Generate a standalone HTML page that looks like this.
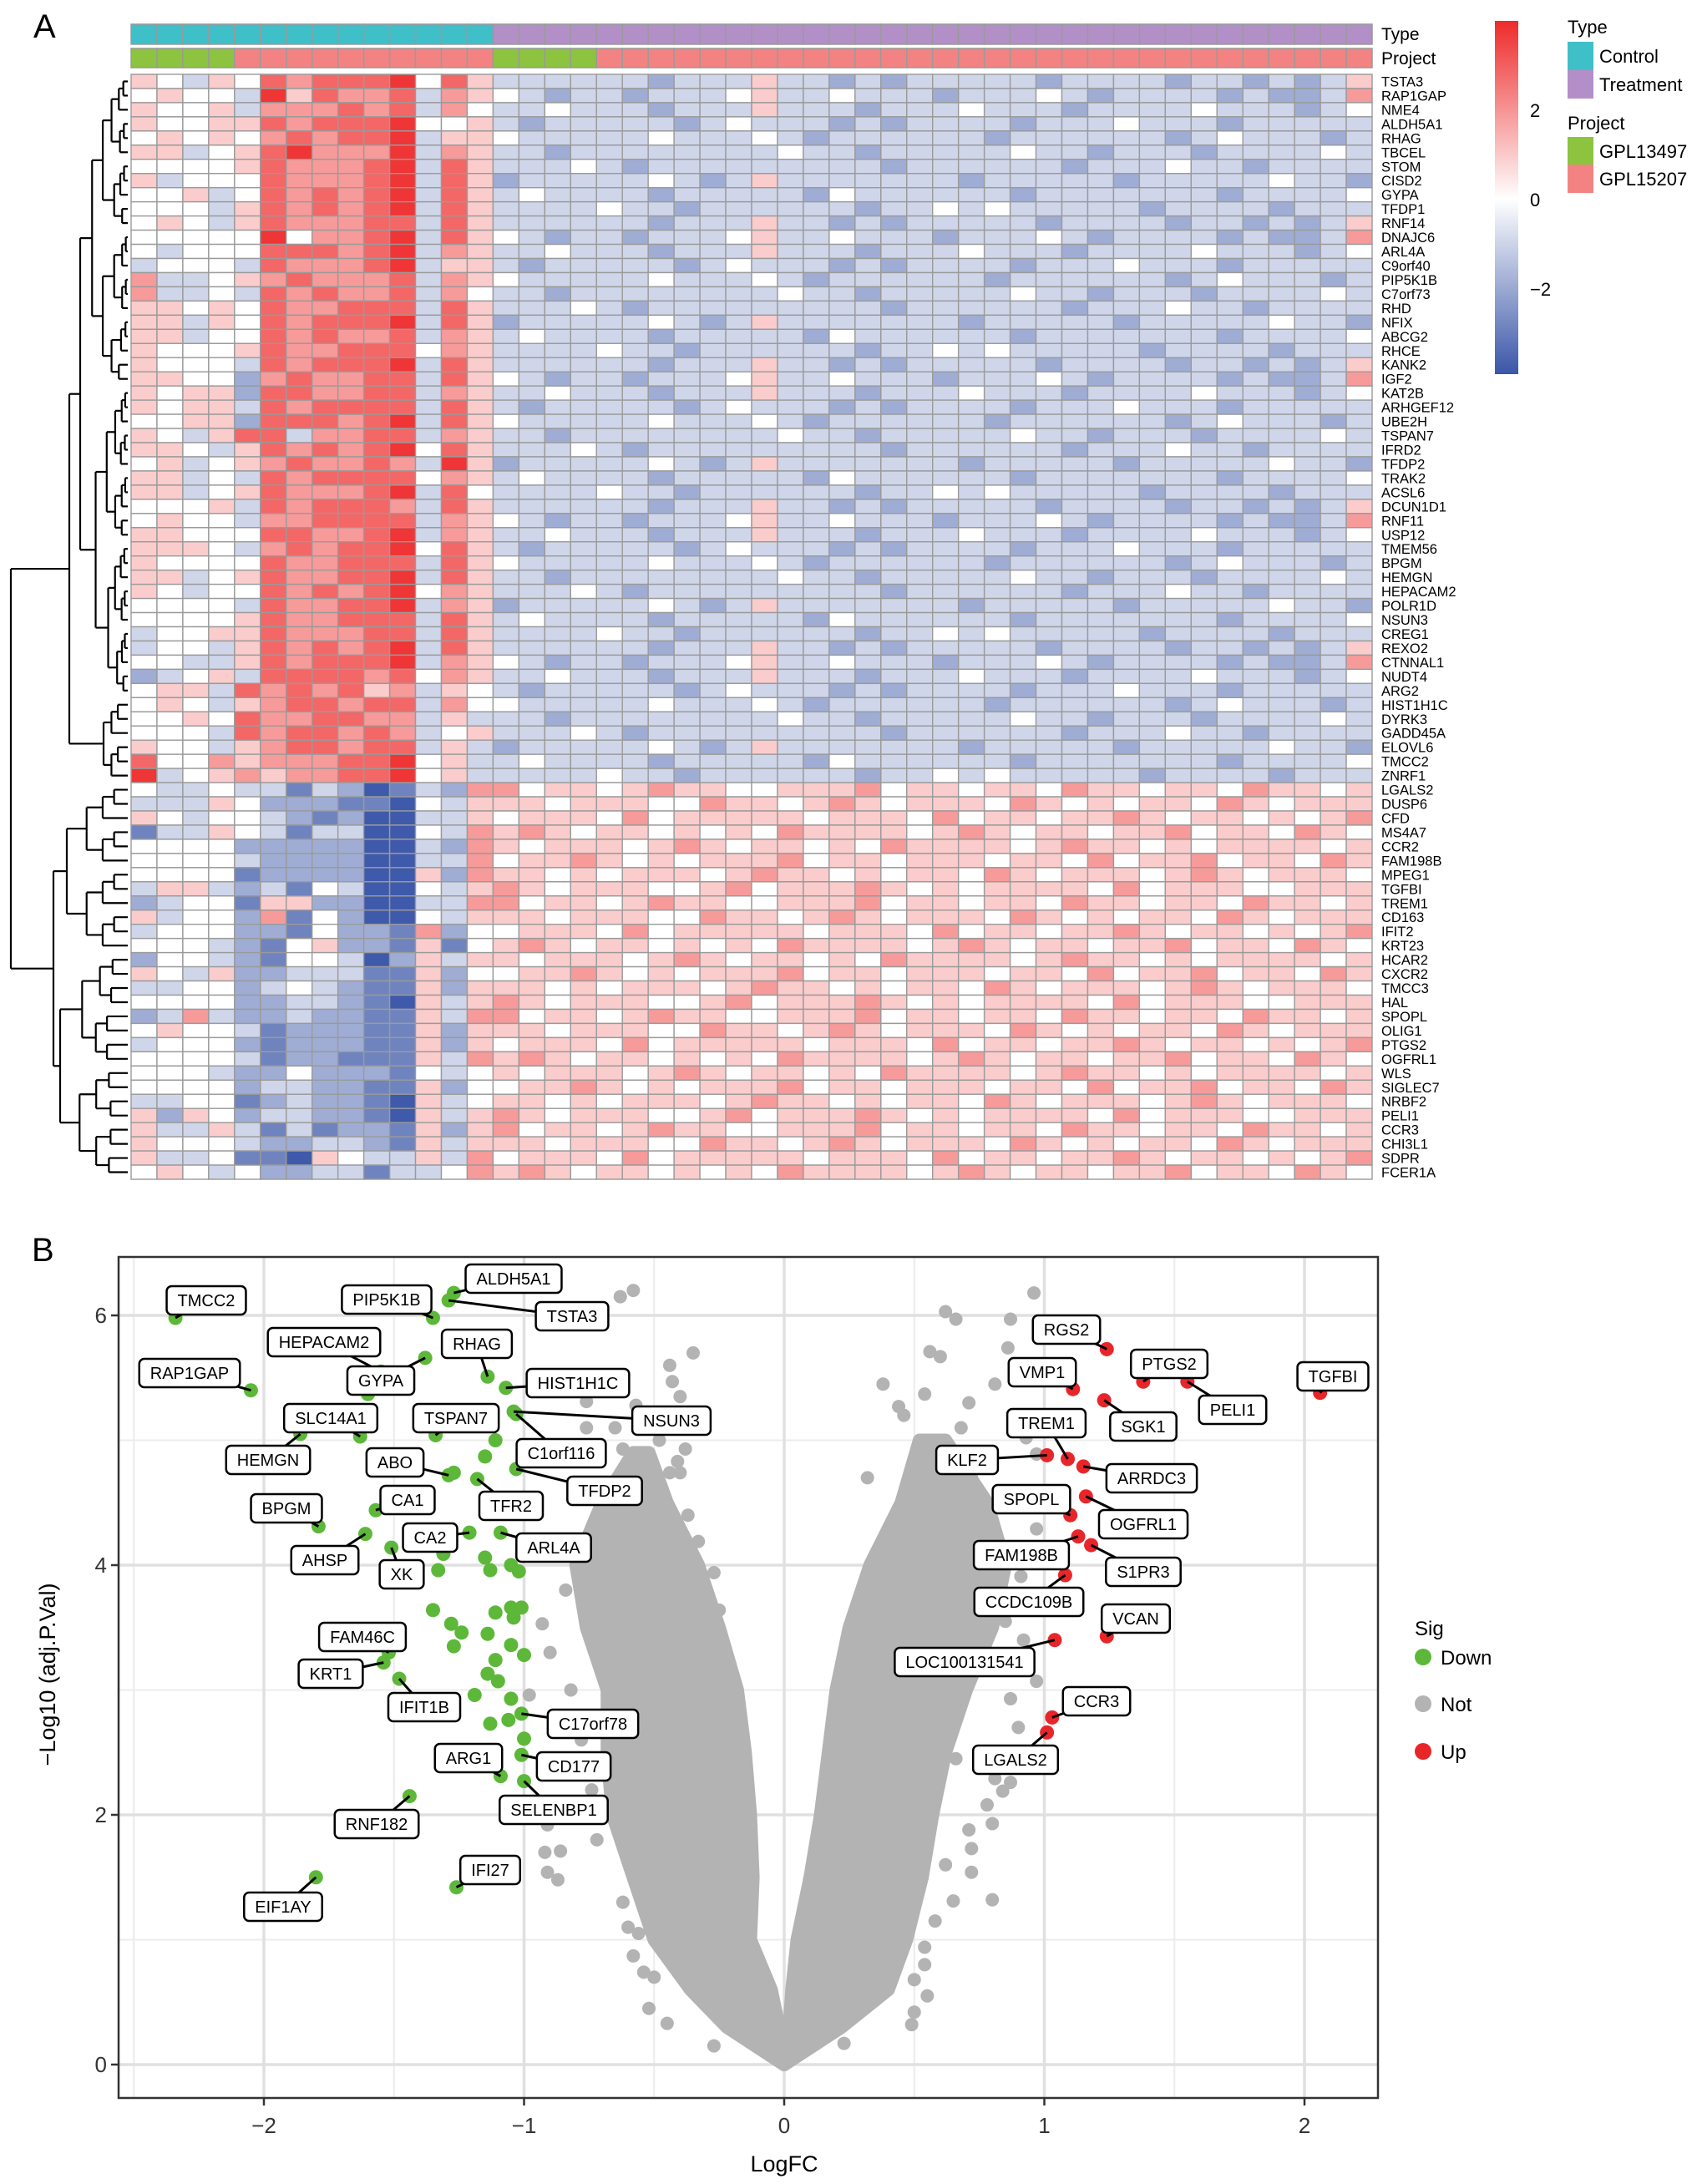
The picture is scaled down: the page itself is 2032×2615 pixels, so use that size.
<!DOCTYPE html>
<html><head><meta charset="utf-8">
<style>
html,body{margin:0;padding:0;background:#fff;}
svg{display:block;font-family:"Liberation Sans",Arial,sans-serif;}
</style></head>
<body>
<svg id="fig" xmlns="http://www.w3.org/2000/svg" width="2032" height="2615" viewBox="0 0 2032 2615">
<rect x="0" y="0" width="2032" height="2615" fill="#fff"/>
<text x="40" y="45" font-size="40">A</text>
<text x="38" y="1510" font-size="40">B</text>
<g id="heat"></g>
<g id="dendro"></g>
<g id="hlegend"></g>
<g id="volc"></g>
</svg>
<script>
// ---------------- Heatmap data ----------------
const rowNames = ["TSTA3","RAP1GAP","NME4","ALDH5A1","RHAG","TBCEL","STOM","CISD2","GYPA","TFDP1","RNF14","DNAJC6","ARL4A","C9orf40","PIP5K1B","C7orf73","RHD","NFIX","ABCG2","RHCE","KANK2","IGF2","KAT2B","ARHGEF12","UBE2H","TSPAN7","IFRD2","TFDP2","TRAK2","ACSL6","DCUN1D1","RNF11","USP12","TMEM56","BPGM","HEMGN","HEPACAM2","POLR1D","NSUN3","CREG1","REXO2","CTNNAL1","NUDT4","ARG2","HIST1H1C","DYRK3","GADD45A","ELOVL6","TMCC2","ZNRF1","LGALS2","DUSP6","CFD","MS4A7","CCR2","FAM198B","MPEG1","TGFBI","TREM1","CD163","IFIT2","KRT23","HCAR2","CXCR2","TMCC3","HAL","SPOPL","OLIG1","PTGS2","OGFRL1","WLS","SIGLEC7","NRBF2","PELI1","CCR3","CHI3L1","SDPR","FCER1A"];
const typeAnno = ["C","C","C","C","C","C","C","C","C","C","C","C","C","C","T","T","T","T","T","T","T","T","T","T","T","T","T","T","T","T","T","T","T","T","T","T","T","T","T","T","T","T","T","T","T","T","T","T"];
const projAnno = ["A","A","A","A","B","B","B","B","B","B","B","B","B","B","A","A","A","A","B","B","B","B","B","B","B","B","B","B","B","B","B","B","B","B","B","B","B","B","B","B","B","B","B","B","B","B","B","B"];
// each char = expression level code (5 = 0)
const heatRows = [
"65465878889586"+"4444443444644343444443444434434346",
"56554968778476"+"5434434445644544434445434444343347",
"65564777878475"+"4454443444644434445444344445444345",
"65566878889556"+"4344444345444343444434445444344444",
"56565787889466"+"5444445444543444444344444434544434",
"66456897779476"+"4434444444454434444454434443444454",
"55556877789486"+"4445434444444443444444344454434444",
"64555877789486"+"3444445434644444443444443444445443",
"55645878789486"+"4544443444443544444434444444344445",
"55546878789486"+"4444544344444434454544444344443444",
"56546877788486"+"4444443444644343444443444434434346",
"55555957789486"+"5434434445644544434445434444343347",
"54555888789476"+"4454443444644434445444344445444345",
"45554877789466"+"4344444345444343444434445444344444",
"74456787778476"+"5444445444543444444344444434544434",
"74454878778475"+"4434444444454434444454434443444454",
"66565877888486"+"4445434444444443444444344454434444",
"66465878889486"+"3444445434644444443444443444445443",
"66455878778476"+"4544443444443544444434444444344445",
"65556877888576"+"4444544344444434454544444344443444",
"65554878889486"+"4444443444644343444443444434434346",
"66553787788486"+"5434434445644544434445434444343347",
"65663887788476"+"4454443444644434445444344445444345",
"65664878888486"+"4344444345444343444434445444344444",
"55663888789486"+"5444445444543444444344444434544434",
"65468847788476"+"4434444444454434444454434443444454",
"66546878789586"+"4445434444444443444444344454434444",
"56456787787496"+"3444445434644444443444443444445443",
"66454878888576"+"4544443444443544444434444444344445",
"66456877789485"+"4444544344444434454544444344443444",
"55564878887486"+"4444443444644343444443444434434346",
"56554778888476"+"5434434445644544434445434444343347",
"66555887789476"+"4454443444644434445444344445444345",
"66654787889586"+"4344444345444343444434445444344444",
"65555877888486"+"5444445444543444444344444434544434",
"66456877889486"+"4434444444454434444454434443444454",
"65455878789576"+"4445434444444443444444344454434444",
"55554877889476"+"3444445434644444443444443444445443",
"55556877888486"+"4544443444443544444434444444344445",
"45566877788486"+"4444544344444434454544444344443444",
"45546878789486"+"4444443444644343444443444434434346",
"55446878889476"+"5434434445644544434445434444343347",
"34564888878576"+"4454443444644434445444344445444345",
"56648787867465"+"4344444345444343444434445444344444",
"56546788788475"+"5444445444543444444344444434544434",
"55658778877464"+"4434444444454434444454434443444454",
"55548788787456"+"4445434444444443444444344454434444",
"65546788788464"+"3444445434644444443444443444445443",
"85576777889564"+"4544443444443544444434444444344445",
"94567677889564"+"4444544344444434454544444344443444",
"54454424312437"+"7566567665566675665665766566576656",
"44465333221546"+"6656665576656765666576565665765666",
"65455432311446"+"5666575666665666575665667656656567",
"24465424411547"+"6765665656576666567656656675665765",
"55553333311437"+"6566656765665657666656766565666656",
"55554333311447"+"5667656566675665666566575667566576",
"55552333311637"+"6656566656766565665765666567656665",
"46643425411546"+"7656665567566676565666657566655666",
"34552663311447"+"7566567665566675665665766566576656",
"64553725311546"+"6656665576656765666576565665765666",
"45553325332735"+"5666575666665666575665667656656567",
"55543256332625"+"6765665656576666567656656675665765",
"35543255413646"+"6566656765665657666656766565666656",
"65463344422635"+"5667656566675665666566575667566576",
"44553454322636"+"6656566656766565665765666567656665",
"55553344321646"+"7656665567566676565666657566655666",
"34743343322647"+"7566567665566675665665766566576656",
"56554233322636"+"6656665576656765666576565665765666",
"45553233322636"+"5666575666665666575665667656656567",
"55554233222647"+"6765665656576666567656656675665765",
"55543353332545"+"6566656765665657666656766565666656",
"55553443322635"+"5667656566675665666566575667566576",
"44552343321645"+"6656566656766565665765666567656665",
"63653443321646"+"7656665567566676565666657566655666",
"64464242332636"+"7566567665566675665665766566576656",
"65554334432646"+"6656665576656765666576565665765666",
"64452216544647"+"5666575666665666575665667656656567",
"56545334424457"+"6765665656576666567656656675665765"
];
const colorTicks = [2, 0, -2];

// ---------------- Volcano data ----------------
const downX = [-2.34,-2.05,-1.27,-1.29,-1.35,-1.38,-1.55,-1.60,-1.14,-1.07,-1.86,-1.63,-1.34,-1.04,-1.03,-1.11,-1.15,-1.29,-1.27,-1.03,-1.18,-1.57,-1.79,-1.61,-1.51,-1.21,-1.09,-1.31,-1.33,-1.15,-1.13,-1.05,-1.02,-1.35,-1.11,-1.05,-1.01,-1.04,-1.28,-1.24,-1.27,-1.14,-1.05,-1.00,-1.11,-1.14,-1.10,-1.19,-1.05,-1.13,-1.06,-1.00,-1.52,-1.54,-1.48,-1.01,-1.09,-1.01,-1.00,-1.44,-1.26,-1.80];
const downY = [5.98,5.40,6.18,6.12,5.98,5.66,5.55,5.37,5.51,5.42,5.05,5.03,5.04,5.23,5.21,5.00,4.87,4.72,4.74,4.77,4.69,4.44,4.31,4.25,4.14,4.26,4.26,4.09,3.96,4.06,3.96,4.00,3.95,3.64,3.62,3.66,3.66,3.58,3.53,3.46,3.35,3.45,3.36,3.28,3.24,3.13,3.07,2.96,2.93,2.73,2.76,2.61,3.30,3.22,3.09,2.81,2.31,2.48,2.27,2.15,1.42,1.50];
const downLabel = ["TMCC2","RAP1GAP","ALDH5A1","TSTA3","PIP5K1B","GYPA","HEPACAM2","","RHAG","HIST1H1C","HEMGN","SLC14A1","TSPAN7","NSUN3","C1orf116","","","ABO","","TFDP2","TFR2","CA1","BPGM","AHSP","XK","CA2","ARL4A","","","","","","","","","","","","","","","","","","","","","","","","","","FAM46C","KRT1","IFIT1B","C17orf78","ARG1","CD177","SELENBP1","RNF182","IFI27","EIF1AY"];
const upX = [1.24,1.11,1.38,1.55,2.06,1.23,1.01,1.09,1.15,1.10,1.16,1.13,1.18,1.08,1.24,1.04,1.03,1.01];
const upY = [5.73,5.41,5.47,5.47,5.38,5.32,4.88,4.85,4.79,4.40,4.55,4.23,4.16,3.92,3.43,3.40,2.78,2.66];
const upLabel = ["RGS2","VMP1","PTGS2","PELI1","TGFBI","SGK1","KLF2","TREM1","ARRDC3","SPOPL","OGFRL1","FAM198B","S1PR3","CCDC109B","VCAN","LOC100131541","CCR3","LGALS2"];
// dense non-significant cloud envelope (two arms of the V)
const leftArmY = [0,0.3,0.6,1,1.5,2,2.5,3,3.5,4,4.5,4.9];
const leftArmOuter = [0,-0.22,-0.36,-0.5,-0.58,-0.66,-0.68,-0.68,-0.76,-0.8,-0.7,-0.58];
const leftArmInner = [0,-0.02,-0.05,-0.13,-0.12,-0.13,-0.15,-0.18,-0.25,-0.33,-0.45,-0.52];
const rightArmY = [0,0.3,0.6,1,1.5,2,2.5,3,3.5,4,4.5,5.0];
const rightArmInner = [0,0.02,0.03,0.05,0.1,0.14,0.17,0.2,0.25,0.33,0.45,0.52];
const rightArmOuter = [0,0.22,0.4,0.47,0.53,0.57,0.62,0.7,0.8,0.85,0.78,0.62];
const notX = [-0.63,-0.58,-0.43,-0.40,-0.76,-0.57,-0.76,-0.65,-0.62,-0.38,-0.41,-0.44,-0.40,-0.63,-0.37,-0.33,-0.27,-0.25,-0.24,-0.93,-0.98,0.96,0.62,0.66,0.87,0.56,0.60,0.86,0.81,0.54,0.71,0.44,0.68,0.93,0.97,0.32,0.72,0.97,0.91,0.85,0.97,0.87,0.81,0.87,0.84,0.78,0.80,0.71,0.72,0.72,0.80,0.65,0.54,0.54,0.50,0.49,0.23,-0.91,-0.92,-0.86,-0.91,-0.87,-0.52,-0.45,-0.58,-0.54,-0.27,
 -0.88,-0.84,-0.9,-0.82,-0.78,-0.74,-0.72,-0.7,-0.66,-0.62,-0.56,-0.5,-0.48,-0.44,-0.38,-0.35,0.75,0.8,0.84,0.9,0.92,0.88,0.7,0.66,0.62,0.58,0.55,0.5,0.46,0.38,-0.6,-0.52];
const notY = [6.15,6.20,5.47,5.35,5.31,5.28,5.10,5.10,4.93,4.93,4.83,4.74,4.74,4.41,4.40,4.19,3.94,3.64,3.40,3.53,2.96,6.18,6.03,5.97,5.97,5.71,5.67,5.74,5.45,5.37,5.30,5.27,5.10,5.02,4.89,4.70,4.70,4.29,3.91,3.55,3.07,2.93,2.29,2.26,2.19,2.08,1.93,1.88,1.73,1.54,1.32,1.31,0.94,0.80,0.68,0.32,0.17,1.92,1.70,1.71,1.54,1.48,0.45,0.33,0.87,0.74,0.15,
 4.2,3.8,3.3,3.0,2.6,2.2,1.8,4.6,2.4,1.3,1.05,0.7,5.0,5.6,2.0,5.7,4.4,3.8,3.2,2.7,3.4,4.1,4.9,2.45,1.6,1.15,0.55,0.42,5.2,5.45,1.1,1.25];
const xTicks = [-2,-1,0,1,2];
const yTicks = [0,2,4,6];

// layout (pixel positions of label boxes; not data)
const labelPos = {TMCC2:[247,1557],RAP1GAP:[227,1644],ALDH5A1:[615,1531],TSTA3:[685,1576],PIP5K1B:[463,1556],HEPACAM2:[388,1607],RHAG:[571,1609],GYPA:[456,1653],HIST1H1C:[692,1656],SLC14A1:[396,1698],TSPAN7:[546,1698],NSUN3:[804,1701],HEMGN:[321,1748],ABO:[473,1751],C1orf116:[672,1740],CA1:[488,1796],TFR2:[612,1803],TFDP2:[724,1785],BPGM:[343,1806],CA2:[515,1841],ARL4A:[663,1853],AHSP:[389,1868],XK:[481,1885],FAM46C:[434,1960],KRT1:[396,2004],IFIT1B:[508,2044],C17orf78:[710,2064],ARG1:[561,2105],CD177:[687,2115],SELENBP1:[663,2167],RNF182:[451,2184],IFI27:[587,2239],EIF1AY:[339,2283],RGS2:[1277,1592],PTGS2:[1400,1633],TGFBI:[1596,1648],VMP1:[1248,1643],PELI1:[1476,1688],SGK1:[1369,1708],TREM1:[1253,1704],KLF2:[1158,1748],ARRDC3:[1379,1770],SPOPL:[1235,1795],OGFRL1:[1369,1825],FAM198B:[1223,1862],S1PR3:[1369,1882],CCDC109B:[1232,1918],VCAN:[1360,1938],LOC100131541:[1155,1990],CCR3:[1313,2037],LGALS2:[1216,2107]};

const NS = "http://www.w3.org/2000/svg";
function mk(tag, attrs, parent){
  const e = document.createElementNS(NS, tag);
  for (const k in attrs) e.setAttribute(k, attrs[k]);
  parent.appendChild(e);
  return e;
}
function lerp(a,b,t){return Math.round(a+(b-a)*t);}
function heatColor(v){
  if (v>=0){const t=Math.min(v/4.0,1);return `rgb(${lerp(255,238,t)},${lerp(255,42,t)},${lerp(255,42,t)})`;}
  const t=Math.min(-v/3.9,1);return `rgb(${lerp(255,58,t)},${lerp(255,86,t)},${lerp(255,168,t)})`;
}
function codeVal(ch){return (parseInt(ch,10)-5)*0.95;}

// ---------------- Heatmap drawing ----------------
const HX0=157, HX1=1643, HY0=89, HY1=1412;
const nCols = typeAnno.length, nRows = heatRows.length;
const cw=(HX1-HX0)/nCols, rh=(HY1-HY0)/nRows;
const heat = document.getElementById('heat');
const typeColor = {C:"#3fbfc7", T:"#b38fc8"};
const projColor = {A:"#8cc43f", B:"#f38383"};
for (let j=0;j<nCols;j++){
  const r1 = mk('rect',{x:HX0+j*cw,y:29,width:cw,height:24,fill:typeColor[typeAnno[j]],stroke:"#9a9a9a","stroke-width":1.5},heat);
  
  
  const r2 = mk('rect',{x:HX0+j*cw,y:58,width:cw,height:23,fill:projColor[projAnno[j]],stroke:"#9a9a9a","stroke-width":1.5},heat);
  
  
}
const tl = mk('text',{x:1654,y:48,"font-size":21},heat); tl.textContent="Type";


const pl = mk('text',{x:1654,y:77,"font-size":21},heat); pl.textContent="Project";


for (let i=0;i<nRows;i++){
  const row = heatRows[i];
  for (let j=0;j<nCols;j++){
    const ch = row[j] || "5";
    const c = mk('rect',{x:HX0+j*cw,y:HY0+i*rh,width:cw,height:rh,fill:heatColor(codeVal(ch)),stroke:"#9a9a9a","stroke-width":1.4},heat);
    
    
  }
  const t = mk('text',{x:1654,y:HY0+i*rh+rh/2+6,"font-size":16.5},heat);
  t.textContent = rowNames[i];
  
  
}

// dendrogram (structural decoration)
const dg = document.getElementById('dendro');
const LEAFX = 153;
function line(x1,y1,x2,y2){
  const l = mk('line',{x1:x1,y1:y1,x2:x2,y2:y2,stroke:"#000","stroke-width":2.2},dg);
  
  
}
function node(a,b,x,depth){
  if (a===b) return HY0+a*rh+rh/2;
  const m = Math.floor((a+b)/2);
  const f = [0.18,0.25,0.3,0.35,0.45,0.5][Math.min(depth,5)];
  const xa = x + (LEAFX-x)*f*(1+((a*7)%3)*0.15);
  const xb = x + (LEAFX-x)*f*(1+((b*5)%3)*0.15);
  const ya = (a===m)? HY0+a*rh+rh/2 : node(a,m,xa,depth+1);
  const yb = (m+1===b)? HY0+b*rh+rh/2 : node(m+1,b,xb,depth+1);
  line(x,ya,x,yb);
  line(x,ya,(a===m)?LEAFX:xa,ya);
  line(x,yb,(m+1===b)?LEAFX:xb,yb);
  return (ya+yb)/2;
}
function cluster(a,b,x,split,xs){
  const ya = node(a,split,xs[0],1);
  const yb = node(split+1,b,xs[1],1);
  line(x,ya,x,yb); line(x,ya,xs[0],ya); line(x,yb,xs[1],yb);
  return (ya+yb)/2;
}
const yUp = cluster(0,49,83,43,[96,124]);
const yDn = cluster(50,77,64,61,[80,72]);
line(13,yUp,13,yDn); line(13,yUp,83,yUp); line(13,yDn,64,yDn);

// heatmap legend
const hl = document.getElementById('hlegend');
const defs = mk('defs',{},hl);
const grad = mk('linearGradient',{id:"cbar",x1:0,y1:1,x2:0,y2:0},defs);
[[0,heatColor(-3.9)],[0.495,"#ffffff"],[1,heatColor(4.0)]].forEach(s=>mk('stop',{offset:s[0],"stop-color":s[1]},grad));
const cb = mk('rect',{x:1790,y:25,width:28,height:423,fill:"url(#cbar)"},hl);


const cbY = v => 239 - v*53.5;
colorTicks.forEach(v=>{
  const t = mk('text',{x:1832,y:cbY(v)+8,"font-size":22},hl);
  t.textContent = v<0 ? "\u2212"+Math.abs(v) : String(v);
  
  
});
const legItems = [["Type",32,null],["Control",67,"#3fbfc7"],["Treatment",101,"#b38fc8"],["Project",147,null],["GPL13497",181,"#8cc43f"],["GPL15207",214,"#f38383"]];
legItems.forEach(it=>{
  if (it[2]){
    const r = mk('rect',{x:1877,y:it[1]-17,width:31,height:34,fill:it[2]},hl);
    
    
    const t = mk('text',{x:1915,y:it[1]+8,"font-size":22},hl); t.textContent=it[0];
    
    
  } else {
    const t = mk('text',{x:1877,y:it[1]+8,"font-size":22},hl); t.textContent=it[0];
    
    
  }
});

// ---------------- Volcano drawing ----------------
const PX0=142, PX1=1650, PY0=1505, PY1=2512;
const X = v => 939 + v*311.5;
const Y = v => 2472 - v*149.5;
const vg = document.getElementById('volc');
[-2.5,-1.5,-0.5,0.5,1.5].forEach(v=>{ const l=mk('line',{x1:X(v),x2:X(v),y1:PY0,y2:PY1,stroke:"#ececec","stroke-width":2},vg);  });
[1,3,5].forEach(v=>{ const l=mk('line',{x1:PX0,x2:PX1,y1:Y(v),y2:Y(v),stroke:"#ececec","stroke-width":2},vg);  });
xTicks.forEach(v=>{ const l=mk('line',{x1:X(v),x2:X(v),y1:PY0,y2:PY1,stroke:"#e0e0e0","stroke-width":3.5},vg);  });
yTicks.forEach(v=>{ const l=mk('line',{x1:PX0,x2:PX1,y1:Y(v),y2:Y(v),stroke:"#e0e0e0","stroke-width":3.5},vg);  });

const clip = mk('clipPath',{id:"pclip"},mk('defs',{},vg));
mk('rect',{x:PX0,y:PY0,width:PX1-PX0,height:PY1-PY0},clip);
const pts = mk('g',{"clip-path":"url(#pclip)"},vg);
function arm(ys, outer, inner, name){
  let d = "";
  for (let i=0;i<ys.length;i++) d += (i?"L":"M")+X(outer[i]).toFixed(1)+","+Y(ys[i]).toFixed(1);
  for (let i=ys.length-1;i>=0;i--) d += "L"+X(inner[i]).toFixed(1)+","+Y(ys[i]).toFixed(1);
  d += "Z";
  const p = mk('path',{d:d,fill:"#b3b3b3",stroke:"#b3b3b3","stroke-width":16,"stroke-linejoin":"round"},pts);
  
  
}
arm(leftArmY,leftArmOuter,leftArmInner,'not-sig-cloud-left');
arm(rightArmY,rightArmInner,rightArmOuter,'not-sig-cloud-right');
for (let i=0;i<notX.length;i++){
  const c = mk('circle',{cx:X(notX[i]),cy:Y(notY[i]),r:8,fill:"#b3b3b3"},pts);
  
  
}
const labG = mk('g',{},vg);
const segG = mk('g',{},vg);
function drawSig(xs, ys, labs, color, name){
  for (let i=0;i<xs.length;i++){
    const px=X(xs[i]), py=Y(ys[i]);
    const lab = labs[i];
    if (lab && labelPos[lab]){
      const s = mk('line',{x1:px,y1:py,x2:labelPos[lab][0],y2:labelPos[lab][1],stroke:"#000","stroke-width":3},segG);
      
      
    }
    const c = mk('circle',{cx:px,cy:py,r:8.5,fill:color},pts);
    
    
  }
}
drawSig(downX,downY,downLabel,"#5db83a",'point-down');
drawSig(upX,upY,upLabel,"#e8262a",'point-up');
vg.appendChild(pts); vg.appendChild(segG); vg.appendChild(labG);
function drawLabels(labs){
  labs.forEach(lab=>{
    if (!lab || !labelPos[lab]) return;
    const [cx,cy] = labelPos[lab];
    const g = mk('g',{},labG);
    
    
    const r = mk('rect',{x:cx-40,y:cy-17,width:80,height:34,rx:6,fill:"#fff",stroke:"#000","stroke-width":2.5},g);
    const t = mk('text',{x:cx,y:cy+7,"font-size":20,"text-anchor":"middle"},g);
    t.textContent = lab;
    let w = t.getComputedTextLength ? t.getComputedTextLength() : lab.length*12;
    if (!w) w = lab.length*12;
    r.setAttribute('x', cx - w/2 - 13);
    r.setAttribute('width', w + 26);
  });
}
drawLabels(downLabel); drawLabels(upLabel);
const bd = mk('rect',{x:PX0,y:PY0,width:PX1-PX0,height:PY1-PY0,fill:"none",stroke:"#333","stroke-width":2.5},vg);


xTicks.forEach(v=>{
  mk('line',{x1:X(v),x2:X(v),y1:PY1,y2:PY1+9,stroke:"#333","stroke-width":2.5},vg);
  const t = mk('text',{x:X(v),y:PY1+42,"font-size":26,"text-anchor":"middle",fill:"#333"},vg);
  t.textContent = v<0 ? "\u2212"+Math.abs(v) : String(v);
  
  
});
yTicks.forEach(v=>{
  mk('line',{x1:PX0-9,x2:PX0,y1:Y(v),y2:Y(v),stroke:"#333","stroke-width":2.5},vg);
  const t = mk('text',{x:PX0-14,y:Y(v)+9,"font-size":26,"text-anchor":"end",fill:"#333"},vg);
  t.textContent = String(v);
  
  
});
const xt = mk('text',{x:X(0),y:2600,"font-size":27,"text-anchor":"middle"},vg); xt.textContent="LogFC";


const yt = mk('text',{x:66,y:2005,"font-size":27,"text-anchor":"middle",transform:"rotate(-90 66 2005)"},vg); yt.textContent="\u2212Log10 (adj.P.Val)";


const st = mk('text',{x:1694,y:1958,"font-size":24},vg); st.textContent="Sig";


[["Down","#5db83a",1984],["Not","#b3b3b3",2040],["Up","#e8262a",2097]].forEach(e=>{
  const c = mk('circle',{cx:1704,cy:e[2],r:10,fill:e[1]},vg);
  
  
  const t = mk('text',{x:1725,y:e[2]+9,"font-size":24},vg); t.textContent=e[0];
  
  
});
</script>
</body></html>
